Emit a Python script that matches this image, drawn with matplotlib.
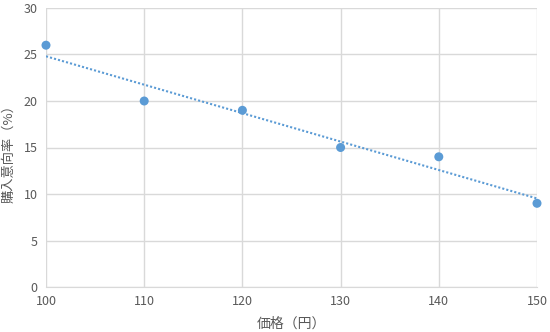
import numpy as np
import matplotlib.pyplot as plt

plt.rcParams['font.family'] = ['Noto Sans CJK JP', 'DejaVu Sans']

# データ
price = [100, 110, 120, 130, 140, 150]
intent = [26, 20, 19, 15, 14, 9]

color = '#5B9BD5'
grid_c = '#D9D9D9'
text_c = '#595959'

fig = plt.figure(figsize=(5.5, 3.32), dpi=100)
ax = fig.add_axes([46/550, 1 - 287/332, (537 - 46)/550, (287 - 8)/332])

# 近似直線
k, b = np.polyfit(price, intent, 1)
xs = np.array([min(price), max(price)])
ax.plot(xs, k * xs + b, linestyle=(0, (1, 1)), color=color, linewidth=1.5, zorder=2)

ax.scatter(price, intent, s=42, color=color, zorder=3, edgecolors='none', clip_on=False)

ax.set_xlim(100, 150)
ax.set_ylim(0, 30)
ax.set_xticks(range(100, 151, 10))
ax.set_yticks(range(0, 31, 5))
ax.grid(True, color=grid_c, linewidth=1)
ax.set_axisbelow(True)
for s in ['top', 'right', 'left']:
    ax.spines[s].set_visible(False)
ax.spines['bottom'].set_color(grid_c)
ax.tick_params(length=0, colors=text_c, labelsize=9, pad=6)

ax.set_xlabel('価格（円）', color=text_c, fontsize=10, labelpad=6)
ax.set_ylabel('購入意向率（%）', color=text_c, fontsize=9.5)
ax.yaxis.set_label_coords(-0.062, 0.49)

fig.savefig('out.png', dpi=100)
